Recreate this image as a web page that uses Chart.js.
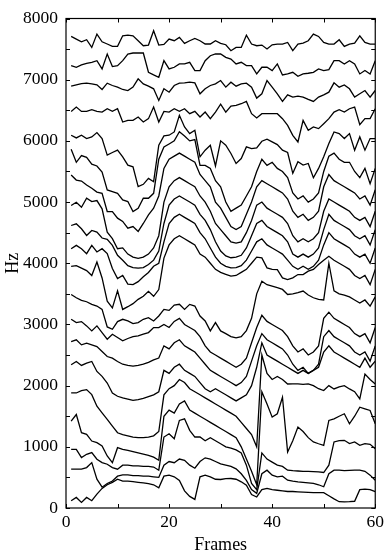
<!DOCTYPE html>
<html><head><meta charset="utf-8">
<script src="https://cdn.jsdelivr.net/npm/chart.js@4.4.0/dist/chart.umd.min.js"></script>
<style>html,body{margin:0;padding:0;background:#fff}#wrap{width:388px;height:558px;position:relative}</style>
</head><body><div id="wrap"><canvas id="c"></canvas></div>
<script>
const frames = [1,2,3,4,5,6,7,8,9,10,11,12,13,14,15,16,17,18,19,20,21,22,23,24,25,26,27,28,29,30,31,32,33,34,35,36,37,38,39,40,41,42,43,44,45,46,47,48,49,50,51,52,53,54,55,56,57,58,59,60];
const xMajorTicks = [0,20,40,60];
const xMinorTicks = [10,30,50];
const yMajorTicks = [0,1000,2000,3000,4000,5000,6000,7000,8000];
const yMinorTicks = [500,1500,2500,3500,4500,5500,6500,7500];

const lsf1 = [7707,7663,7620,7653,7528,7745,7620,7583,7545,7545,7718,7729,7718,7637,7555,7566,7800,7566,7577,7664,7637,7691,7593,7637,7675,7637,7583,7583,7637,7595,7571,7474,7528,7528,7728,7582,7555,7566,7501,7571,7582,7582,7609,7474,7582,7598,7636,7745,7707,7609,7582,7582,7653,7544,7582,7598,7718,7609,7582,7582];
const lsf2 = [7230,7203,7241,7268,7284,7311,7176,7420,7214,7230,7311,7420,7436,7436,7436,7121,7078,7040,7311,7176,7203,7257,7257,7284,7149,7149,7311,7392,7420,7420,7365,7338,7257,7284,7230,7230,7094,7203,7203,7149,7257,7078,7094,7121,7056,7094,7105,7121,7176,7149,7165,7311,7311,7257,7311,7257,7094,7149,7094,7311];
const lsf3 = [6894,6915,6937,6943,6932,6915,6840,6943,6905,6878,6840,6823,6878,7013,6932,6894,6851,6661,6851,6796,6905,6943,6948,6959,6948,6769,6851,6905,6932,6986,6878,6959,6894,6932,6943,6878,6699,6769,6986,6878,6769,6644,6753,6715,6731,6715,6677,6644,6715,6753,6796,6948,6878,6915,6851,6715,6769,6823,6715,6823];
const lsf4 = [6482,6552,6482,6482,6509,6482,6471,6525,6482,6525,6308,6335,6335,6390,6308,6363,6552,6308,6482,6471,6525,6482,6525,6444,6482,6390,6471,6363,6471,6600,6471,6569,6580,6607,6645,6444,6374,6444,6444,6444,6444,6363,6254,6091,5983,6335,6173,6227,6200,6281,6363,6471,6509,6471,6525,6552,6265,6363,6363,6525];
const lsf5 = [6092,6048,6092,6038,6065,6135,6038,5767,5810,5848,5740,5604,5577,5252,5290,5387,5333,5929,6081,6092,6146,6417,6227,6119,6173,5740,5848,5929,5590,6000,5929,5794,5631,5712,5902,5875,5886,5994,6027,5983,5940,5848,5810,5469,5658,5604,5631,5398,5550,5740,5956,6146,6119,6038,6119,5848,6065,5848,6038,6038];
const lsf6 = [5864,5650,5760,5730,5620,5590,5490,5198,5170,5143,5035,5008,4845,4900,5062,5062,5143,5700,5900,5950,6000,6150,6080,6000,6020,5600,5600,5550,5350,5250,5000,4850,4900,4950,5100,5250,5500,5700,5600,5650,5550,5500,5400,5150,5050,5100,5000,5050,5150,5500,5750,5800,5700,5650,5650,5500,5400,5550,5300,5550];
const lsf7 = [5441,5360,5344,5279,5225,5163,5143,4845,4845,4737,4683,4574,4600,4520,4650,4791,4900,5100,5550,5700,5750,5800,5750,5700,5650,5450,5350,5250,5000,4900,4750,4600,4550,4600,4800,5000,5250,5350,5300,5250,5200,5150,5050,4850,4750,4800,4700,4750,4850,5250,5450,5350,5300,5250,5200,5150,5050,5100,4950,5200];
const lsf8 = [4943,4997,4916,5062,5008,5024,4889,4509,4401,4238,4250,4150,4100,4080,4100,4150,4250,4450,5000,5250,5350,5400,5350,5300,5250,5100,5000,4850,4650,4550,4450,4350,4330,4350,4500,4700,4950,5000,4900,4850,4800,4750,4650,4450,4350,4400,4350,4400,4500,4850,5050,5000,4950,4900,4850,4750,4700,4750,4600,4850];
const lsf9 = [4617,4645,4563,4455,4536,4509,4412,4390,4292,4130,4050,3960,3930,3920,3930,3980,4050,4200,4650,4950,5050,5100,5050,5000,4950,4800,4700,4550,4350,4200,4120,4090,4100,4130,4250,4450,4650,4700,4600,4550,4500,4450,4350,4150,4100,4150,4100,4150,4250,4550,4800,4700,4650,4600,4550,4450,4400,4450,4300,4550];
const lsf10 = [4238,4292,4238,4157,4292,4184,4238,4157,3913,3750,3800,3660,3650,3700,3780,3850,3950,4000,4350,4650,4750,4800,4750,4700,4650,4500,4400,4250,4100,4000,3950,3924,3930,3960,4050,4200,4350,4400,4300,4250,4200,4150,4050,3950,3900,3950,3900,3950,4050,4300,4500,4400,4350,4300,4250,4150,4100,4150,4000,4250];
const lsf11 = [3950,3960,3920,3880,3800,4020,3760,3380,3270,3550,3245,3290,3340,3410,3460,3540,3460,3570,4085,4300,4400,4450,4400,4350,4300,4150,4100,4000,3900,3850,3820,3790,3800,3850,3900,4000,4100,4087,3924,3900,3897,3761,3734,3761,3815,3815,3870,3900,3978,4050,4114,4050,4000,3950,3900,3800,3750,3800,3650,3900];
const lsf12 = [3490,3436,3393,3371,3328,3301,3246,2959,2921,3046,3084,3057,3014,3030,3084,3111,3057,3138,3246,3230,3317,3330,3246,3328,3301,3138,3057,2894,3030,2894,2850,2800,2780,2800,2900,3100,3500,3707,3650,3626,3600,3572,3490,3500,3518,3545,3480,3436,3409,3400,4000,3550,3500,3480,3450,3400,3350,3400,3300,3450];
const lsf13 = [3084,3030,3046,2976,2894,2976,2867,2759,2840,2786,2732,2770,2800,2813,2840,2867,2949,2949,3000,2950,3050,3100,3000,2950,2900,2800,2650,2550,2500,2450,2400,2350,2300,2350,2450,2700,2950,3150,3050,3000,2950,2900,2800,2650,2550,2600,2500,2550,2650,3100,3200,3100,3050,3000,2950,2850,2800,2850,2700,2950];
const lsf14 = [2720,2748,2666,2693,2666,2639,2558,2476,2449,2395,2350,2330,2320,2330,2350,2380,2420,2450,2650,2600,2700,2750,2650,2600,2550,2450,2350,2250,2200,2150,2100,2050,2000,2050,2150,2400,2650,2850,2750,2700,2650,2600,2500,2350,2250,2300,2200,2250,2350,2800,2900,2800,2750,2700,2650,2550,2500,2550,2400,2650];
const lsf15 = [2341,2395,2330,2368,2395,2232,2151,2043,1880,1826,1800,1780,1760,1770,1790,1820,1850,1900,2250,2200,2300,2350,2250,2200,2150,2050,1950,1900,1950,1900,1850,1800,1750,1800,1850,2000,2300,2700,2500,2450,2400,2350,2300,2250,2200,2250,2200,2250,2300,2550,2650,2550,2500,2450,2400,2350,2300,2450,2300,2400];
const lsf16 = [1880,1880,1918,1935,1853,1664,1555,1447,1339,1230,1200,1180,1160,1150,1150,1160,1180,1250,1850,1950,2000,2100,2050,1950,1900,1850,1800,1750,1700,1650,1600,1550,1500,1400,1300,1200,1000,2500,2200,2100,2150,2100,2027,2030,2027,2020,2027,2000,1950,1919,2000,1946,1980,2000,1946,1900,1783,2190,2100,2027];
const lsf17 = [1420,1528,1230,1203,1094,1067,1013,851,742,986,960,940,920,900,880,860,830,780,1500,1600,1550,1700,1750,1600,1550,1500,1450,1400,1350,1300,1250,1200,1150,1000,800,600,380,1900,1700,1485,1540,1810,916,1100,1323,1250,1150,1079,1050,1024,1431,1458,1500,1540,1377,1500,1648,1620,1594,1377];
const lsf18 = [959,959,823,878,905,797,742,715,661,634,700,700,690,690,680,680,670,618,1160,1214,1133,1431,1458,1269,1160,1160,1100,1150,1100,1050,1000,980,950,900,700,400,300,900,800,750,700,680,618,610,605,600,598,595,590,580,700,1079,1100,1106,1052,1079,1024,1052,1040,970];
const lsf19 = [634,634,634,661,742,471,340,400,440,520,540,540,530,530,520,520,510,500,700,760,740,800,780,700,650,760,820,800,760,720,700,680,640,560,450,300,240,560,618,537,510,520,455,440,428,420,410,401,380,347,560,618,618,610,615,618,618,600,537,455];
const lsf20 = [119,173,92,173,119,227,320,380,420,470,440,440,430,420,410,400,380,330,520,537,510,450,280,190,141,510,537,510,470,466,480,482,470,428,374,220,180,300,320,300,290,280,270,270,265,260,255,250,250,250,200,150,103,100,103,110,300,310,300,266];

const series = [lsf1,lsf2,lsf3,lsf4,lsf5,lsf6,lsf7,lsf8,lsf9,lsf10,lsf11,lsf12,lsf13,lsf14,lsf15,lsf16,lsf17,lsf18,lsf19,lsf20];

const FONT = "'Liberation Serif','Times New Roman',serif";

const inTicks = {
  id: 'inTicks',
  afterDatasetsDraw(chart) {
    const {ctx, chartArea: a, scales: {x, y}} = chart;
    ctx.save();
    ctx.strokeStyle = '#000';
    ctx.lineWidth = 1;
    ctx.beginPath();
    const L = 4;
    xMajorTicks.concat(xMinorTicks).forEach(v => {
      const px = Math.round(x.getPixelForValue(v)) + 0.5;
      ctx.moveTo(px, a.bottom); ctx.lineTo(px, a.bottom - L);
      ctx.moveTo(px, a.top); ctx.lineTo(px, a.top + L);
    });
    yMajorTicks.concat(yMinorTicks).forEach(v => {
      const py = Math.round(y.getPixelForValue(v)) + 0.5;
      ctx.moveTo(a.left, py); ctx.lineTo(a.left + L, py);
      ctx.moveTo(a.right, py); ctx.lineTo(a.right - L, py);
    });
    ctx.stroke();
    ctx.lineWidth = 1.2;
    ctx.strokeRect(a.left, a.top, a.right - a.left, a.bottom - a.top);
    ctx.restore();
  }
};

new Chart(document.getElementById('c'), {
  type: 'line',
  data: {
    datasets: series.map(s => ({
      data: frames.map((f, i) => ({x: f, y: s[i]})),
      borderColor: '#000',
      borderWidth: 1.3,
      pointRadius: 0,
      fill: false,
      tension: 0
    }))
  },
  options: {
    responsive: true,
    maintainAspectRatio: false,
    animation: false,
    devicePixelRatio: 1,
    layout: {padding: {left: 0, right: 10, top: 16, bottom: 0}},
    plugins: {legend: {display: false}, tooltip: {enabled: false}},
    scales: {
      x: {
        type: 'linear', min: 0, max: 60,
        afterBuildTicks: s => { s.ticks = xMajorTicks.map(v => ({value: v})); },
        afterFit: s => { s.height = 50; },
        grid: {display: false, drawTicks: false},
        border: {display: false},
        ticks: {color: '#000', font: {family: FONT, size: 17.5}, padding: 4, maxRotation: 0, callback: v => String(v)},
        title: {display: true, text: 'Frames', color: '#000', font: {family: FONT, size: 18}, padding: {top: 0, bottom: 2}}
      },
      y: {
        type: 'linear', min: 0, max: 8000,
        afterBuildTicks: s => { s.ticks = yMajorTicks.map(v => ({value: v})); },
        afterFit: s => { s.width = 66; },
        grid: {display: false, drawTicks: false},
        border: {display: false},
        ticks: {color: '#000', font: {family: FONT, size: 17.5}, padding: 8, callback: v => String(v)},
        title: {display: true, text: 'Hz', color: '#000', font: {family: FONT, size: 18}, padding: {top: 2, bottom: 0}}
      }
    }
  },
  plugins: [inTicks]
});
</script></body></html>
